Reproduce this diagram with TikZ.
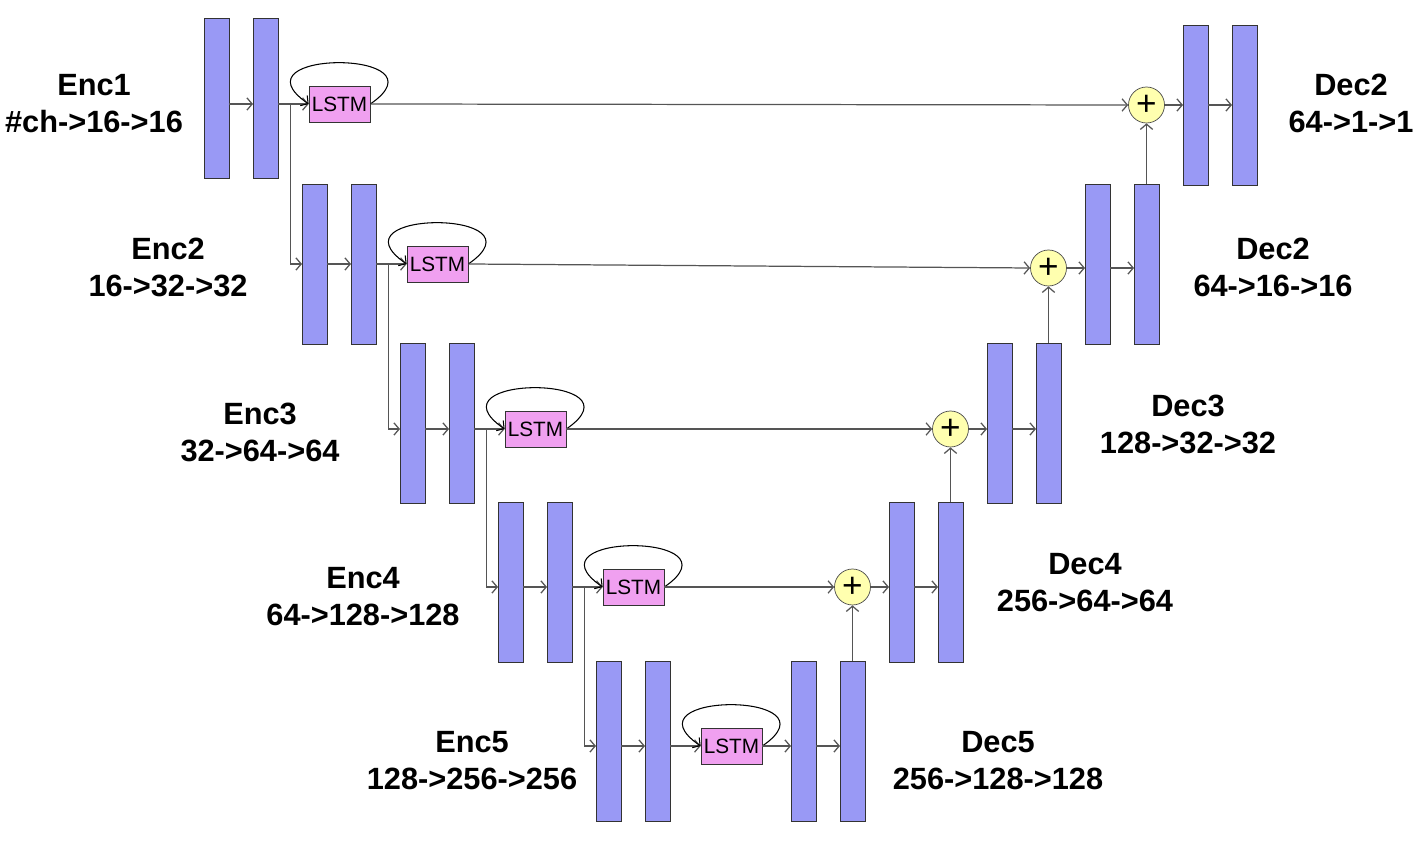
\documentclass[tikz,border=0pt]{standalone}
\usepackage{fontspec}
\setsansfont{Liberation Sans}
\usetikzlibrary{calc}
\usetikzlibrary{arrows.meta}
\definecolor{barblue}{RGB}{153,153,245}
\definecolor{lstmpink}{RGB}{240,160,240}
\definecolor{plusyellow}{RGB}{255,255,175}
\definecolor{linegray}{RGB}{85,85,85}
\tikzset{
  bar/.style={draw=black!80, fill=barblue, minimum width=0.5cm, minimum height=3.2cm, inner sep=0, outer sep=0},
  lstm/.style={draw=black!80, fill=lstmpink, minimum width=1.22cm, minimum height=0.72cm, inner sep=0, font=\sffamily\fontsize{11.8}{12}\selectfont},
  plus/.style={circle, draw=black!70, fill=plusyellow, minimum size=0.72cm, inner sep=0, font=\sffamily\fontsize{20}{20}\selectfont},
  lbl/.style={align=center, font=\sffamily\bfseries\fontsize{17.5}{21}\selectfont},
  conn/.style={linegray, line width=0.7pt, -{Straight Barb[length=3pt,width=7pt]}},
}

\begin{document}
\begin{tikzpicture}[x=0.02cm, y=-0.02cm]
\useasboundingbox (0,0) rectangle (1421,847);
% encoder side
\foreach \i/\y/\r in {1/98/104, 2/264/264, 3/423/429, 4/582/587, 5/741/746} {
  \node[bar] (ea\i) at ({216.5+98*(\i-1)},\y) {};
  \node[bar] (eb\i) at ({265.5+98*(\i-1)},\y) {};
  \node[lstm] (l\i) at ({339.5+98*(\i-1)},\r) {LSTM};
  \coordinate (s\i) at ($(eb\i.east |- l\i)!0.4!(l\i.west)$);
  \draw[conn] (ea\i.east |- l\i) -- (eb\i.west |- l\i);
  \draw[conn] (eb\i.east |- l\i) -- (l\i.west);
  \draw[conn, black, line width=0.6pt] (l\i.east) .. controls +(80,-55) and +(-80,-55) .. (l\i.west);
}
% decoder side
\foreach \i/\x/\y in {1/1195.5/105, 2/1097.5/264, 3/999.5/423, 4/901.5/582, 5/803.5/741} {
  \node[bar] (da\i) at (\x,\y) {};
  \node[bar] (db\i) at (\x+49,\y) {};
}
\foreach \i/\x/\y in {1/1146.5/105, 2/1048.5/268, 3/950.5/429, 4/852.5/587} {
  \node[plus] (p\i) at (\x,\y) {+};
  \draw[conn] (l\i.east) -- (p\i.west);
  \draw[conn] (p\i.east) -- (da\i.west |- p\i);
  \draw[conn] (da\i.east |- p\i) -- (db\i.west |- p\i);
}
\draw[conn] (l5.east) -- (da5.west |- l5);
\draw[conn] (da5.east |- l5) -- (db5.west |- l5);
\foreach \i/\j in {1/2, 2/3, 3/4, 4/5} {
  \draw[conn] (s\i) |- (ea\j.west |- l\j);
  \draw[conn] (db\j.north) -- (p\i.south);
}
% labels
\node[lbl] (te1) at (94,103.5) {Enc1\\\#ch->16->16};
\node[lbl] (te2) at (168,267.5) {Enc2\\16->32->32};
\node[lbl] (te3) at (260,432) {Enc3\\32->64->64};
\node[lbl] (te4) at (363,596.5) {Enc4\\64->128->128};
\node[lbl] (te5) at (472,760.5) {Enc5\\128->256->256};
\node[lbl] (td5) at (998,760.5) {Dec5\\256->128->128};
\node[lbl] (td4) at (1085,583) {Dec4\\256->64->64};
\node[lbl] (td3) at (1188,424.5) {Dec3\\128->32->32};
\node[lbl] (td2) at (1273,267.5) {Dec2\\64->16->16};
\node[lbl] (td1) at (1351,103.5) {Dec2\\64->1->1};
\end{tikzpicture}
\end{document}
